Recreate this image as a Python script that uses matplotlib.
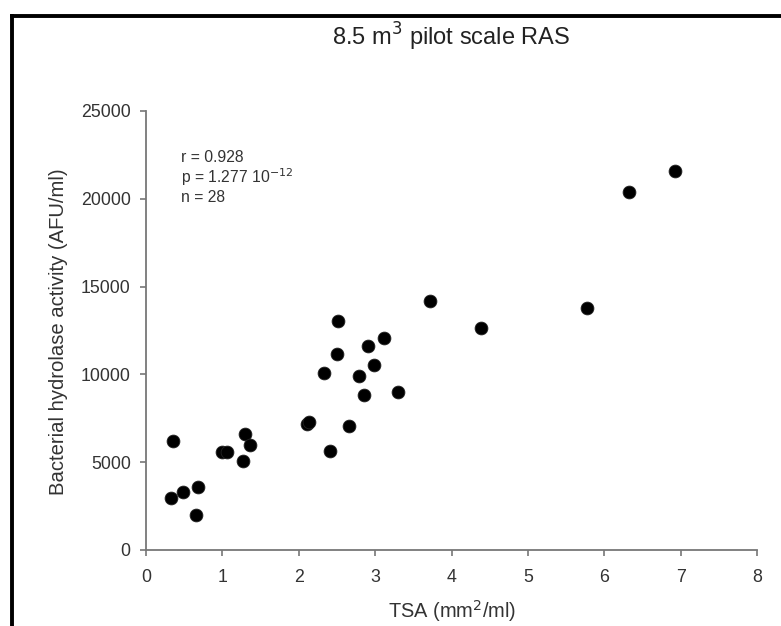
import matplotlib
matplotlib.use("Agg")
import matplotlib.pyplot as plt
from matplotlib.lines import Line2D

plt.rcParams['font.family'] = ['Liberation Sans', 'DejaVu Sans']

tsa = [0.33, 0.36, 0.48, 0.66, 0.68, 1.00, 1.06, 1.27, 1.29, 1.36,
       2.11, 2.13, 2.33, 2.41, 2.50, 2.52, 2.66, 2.79, 2.86, 2.91,
       2.99, 3.11, 3.30, 3.72, 4.38, 5.77, 6.32, 6.93]
activity = [2980, 6190, 3300, 1990, 3590, 5560, 5560, 5050, 6620, 6000,
            7160, 7290, 10080, 5640, 11180, 13060, 7060, 9910, 8850, 11640,
            10540, 12090, 8980, 14160, 12640, 13780, 20390, 21580]

xticks = [0, 1, 2, 3, 4, 5, 6, 7, 8]
yticks = [0, 5000, 10000, 15000, 20000, 25000]

title = "8.5 m$^{3}$ pilot scale RAS"
xlabel = "TSA (mm$^{2}$/ml)"
ylabel = "Bacterial hydrolase activity (AFU/ml)"
stats = ["r = 0.928", "p = 1.277 10$^{-12}$", "n = 28"]

W, H = 781, 626
fig = plt.figure(figsize=(W / 100, H / 100), dpi=100)
ax = fig.add_axes([146 / W, 1 - 550 / H, (757 - 146) / W, (550 - 111) / H])

ax.scatter(tsa, activity, s=85, color='black', edgecolors='#222222', linewidths=0.6, zorder=3)

ax.set_xlim(0, 8)
ax.set_ylim(0, 25000)
ax.set_xticks(xticks)
ax.set_yticks(yticks)
ax.set_xticklabels([str(t) for t in xticks])
ax.set_yticklabels([str(t) for t in yticks])

for s in ['top', 'right']:
    ax.spines[s].set_visible(False)
for s in ['left', 'bottom']:
    ax.spines[s].set_color('#777777')
    ax.spines[s].set_linewidth(1.3)

ax.tick_params(axis='both', direction='out', length=4, width=1.2, color='#777777',
               labelsize=12.8, labelcolor='#333333')
ax.tick_params(axis='x', pad=10)
ax.tick_params(axis='y', pad=7)

fig.text(452 / W, 1 - 611 / H, xlabel, ha='center', va='center',
         fontsize=14.4, color='#333333')
fig.text(58 / W, 1 - 332 / H, ylabel, ha='center', va='center', rotation=90,
         fontsize=14.6, color='#333333')
fig.text((146 + 757) / 2 / W, 1 - 37 / H, title, ha='center', va='center',
         fontsize=17, color='#222222')

for i, line in enumerate(stats):
    fig.text(181 / W, 1 - (157 + i * 20) / H, line, ha='left', va='center',
             fontsize=11.3, color='#333333')

# outer frame (left and top edges)
fig.add_artist(Line2D([11.5 / W, 11.5 / W], [0, 1 - 15.5 / H], transform=fig.transFigure,
                      color='black', linewidth=2.8, solid_capstyle='projecting'))
fig.add_artist(Line2D([11.5 / W, 1], [1 - 15.5 / H, 1 - 15.5 / H], transform=fig.transFigure,
                      color='black', linewidth=2.8, solid_capstyle='projecting'))

fig.savefig('out.png', dpi=100, facecolor='white')
